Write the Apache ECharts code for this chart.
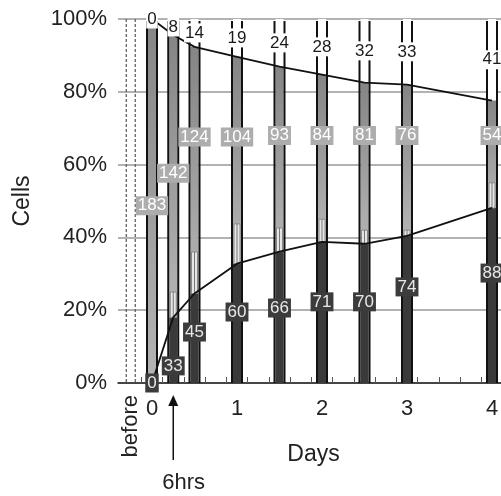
<!DOCTYPE html>
<html>
<head>
<meta charset="utf-8">
<script src="https://cdn.jsdelivr.net/npm/echarts@6/dist/echarts.min.js"></script>
<style>
  html, body { margin: 0; padding: 0; background: #fff; }
  #chart { width: 501px; height: 496px; }
</style>
</head>
<body>
<div id="chart"></div>
<script>
  const FONT = "'Liberation Sans', Arial, sans-serif";

  // time points (days) and cell counts per state
  const days = [0, 0.25, 0.5, 1, 1.5, 2, 2.5, 3, 4];
  const darkCounts = [0, 33, 45, 60, 66, 71, 70, 74, 88];
  const grayCounts = [183, 142, 124, 104, 93, 84, 81, 76, 54];
  const whiteCounts = [0, 8, 14, 19, 24, 28, 32, 33, 41];
  // upper end of the error box above the dark part (%)
  const errorTop = [0, 25, 36, 43.7, 42.6, 45, 42, 42, 55];

  const dayLabels = [0, 1, 2, 3, 4];
  const tickDays = [-0.125, 0.125, 0.375, 0.625, 0.875, 1.125, 1.375, 1.625, 1.875,
    2.125, 2.375, 2.625, 2.875, 3.125, 3.375, 3.625, 3.875, 4.125, 4.375];
  const yTicks = [0, 20, 40, 60, 80, 100];
  const beforeDay = -0.25;
  const arrowDay = 0.25;

  // where the inner labels sit (% height), as placed in the figure
  const darkLabelLevel = [0, 4.7, 14, 19.5, 20.6, 22.3, 22.3, 26.4, 30.2];
  const grayLabelLevel = [48.7, 57.6, 67.6, 67.6, 68, 68, 68, 68, 68];

  const totals = days.map((d, i) => darkCounts[i] + grayCounts[i] + whiteCounts[i]);
  const darkPct = days.map((d, i) => (darkCounts[i] / totals[i]) * 100);
  const topPct = days.map((d, i) => ((darkCounts[i] + grayCounts[i]) / totals[i]) * 100);

  const barRows = days.map((d, i) => [d, darkPct[i], topPct[i], errorTop[i]]);

  const BAR_W = 8;

  function renderBar(params, api) {
    const d = api.value(0);
    const p0 = api.coord([d, 0]);
    const p1 = api.coord([d, api.value(1)]);
    const p2 = api.coord([d, api.value(2)]);
    const pTop = api.coord([d, 100]);
    const pErr = api.coord([d, api.value(3)]);
    const x = p0[0] - BAR_W / 2;
    const children = [
      { type: "rect", shape: { x, y: pTop[1], width: BAR_W, height: p2[1] - pTop[1] },
        style: { fill: "#fff" } },
      { type: "rect", shape: { x, y: p2[1], width: BAR_W, height: p1[1] - p2[1] },
        style: { fill: new echarts.graphic.LinearGradient(0, 0, 0, 1, [
          { offset: 0, color: "#858585" }, { offset: 1, color: "#b4b4b4" }]) } },
      { type: "rect", shape: { x, y: p1[1], width: BAR_W, height: p0[1] - p1[1] },
        style: { fill: "#3a3a3a" } },
    ];
    if (api.value(3) > api.value(1)) {
      children.push(
        { type: "rect", shape: { x: x + 1, y: pErr[1], width: BAR_W - 2, height: p1[1] - pErr[1] },
          style: { fill: "#e6e6e6", stroke: "#888", lineWidth: 1 } },
        { type: "line", shape: { x1: p0[0], y1: pErr[1], x2: p0[0], y2: p1[1] },
          style: { stroke: "#777", lineWidth: 1 } }
      );
    }
    children.push(
      { type: "line", shape: { x1: x - 1, y1: pTop[1] + 2, x2: x - 1, y2: p0[1] },
        style: { stroke: "#111", lineWidth: 2 } },
      { type: "line", shape: { x1: x + BAR_W + 1, y1: pTop[1] + 2, x2: x + BAR_W + 1, y2: p0[1] },
        style: { stroke: "#111", lineWidth: 2 } }
    );
    return { type: "group", children };
  }

  function renderLabels(params, api) {
    const i = params.dataIndex;
    const d = api.value(0);
    const cx = api.coord([d, 0])[0];
    const yWhite = api.coord([d, (topPct[i] + 100) / 2])[1];
    const yGray = api.coord([d, grayLabelLevel[i]])[1];
    const yDark = api.coord([d, darkLabelLevel[i]])[1];
    const base = { fontSize: 17, fontFamily: FONT, align: "center", verticalAlign: "middle" };
    return {
      type: "group",
      children: [
        { type: "text", x: cx, y: yWhite,
          style: Object.assign({}, base, { text: String(whiteCounts[i]), fill: "#1a1a1a",
            backgroundColor: "#fff", padding: [1, 1] }) },
        { type: "text", x: cx, y: yGray,
          style: Object.assign({}, base, { text: String(grayCounts[i]), fill: "#fff",
            backgroundColor: "#adadad", padding: [2, 2, 0, 2] }) },
        { type: "text", x: cx, y: yDark,
          style: Object.assign({}, base, { text: String(darkCounts[i]), fill: "#e8e8e8",
            backgroundColor: "#3c3c3c", padding: [2, 2, 0, 2] }) },
      ],
    };
  }

  function renderBefore(params, api) {
    const d = api.value(0);
    const p0 = api.coord([d, 0]);
    const pTop = api.coord([d, 100]);
    const dashed = { stroke: "#555", lineWidth: 1.2, lineDash: [3, 2] };
    return {
      type: "group",
      children: [
        { type: "line", shape: { x1: p0[0] - 4.5, y1: pTop[1], x2: p0[0] - 4.5, y2: p0[1] }, style: dashed },
        { type: "line", shape: { x1: p0[0] + 4.5, y1: pTop[1], x2: p0[0] + 4.5, y2: p0[1] }, style: dashed },
      ],
    };
  }

  const chart = echarts.init(document.getElementById("chart"));

  const xBase = { type: "value", min: -0.4, max: 4.6, splitLine: { show: false } };

  chart.setOption({
    animation: false,
    backgroundColor: "#fff",
    grid: { left: 118, right: -42, top: 19, bottom: 113, containLabel: false, outerBoundsMode: "none" },
    xAxis: [
      Object.assign({}, xBase, {
        position: "bottom",
        axisLine: { show: true, onZero: false, lineStyle: { color: "#222", width: 1.5 } },
        axisTick: { show: true, inside: true, length: 6, customValues: tickDays,
          lineStyle: { color: "#555", width: 1 } },
        axisLabel: { customValues: dayLabels, fontSize: 22, fontFamily: FONT, color: "#222", margin: 15 },
        name: "Days",
        nameLocation: "middle",
        nameGap: 60,
        nameTextStyle: { fontSize: 23, fontFamily: FONT, color: "#222", padding: [0, 34, 0, 0] },
      }),
      Object.assign({}, xBase, {
        position: "bottom",
        axisLine: { show: false },
        axisTick: { show: false },
        axisLabel: { customValues: [beforeDay], formatter: () => "before", rotate: 90,
          fontSize: 22, fontFamily: FONT, color: "#222", margin: 12 },
      }),
    ],
    yAxis: {
      type: "value",
      min: 0,
      max: 100,
      interval: 20,
      axisLine: { show: true, lineStyle: { color: "#555", width: 1.5 } },
      axisTick: { show: false },
      axisLabel: { customValues: yTicks, formatter: "{value}%", fontSize: 22, fontFamily: FONT,
        color: "#222", margin: 11 },
      splitLine: { show: true, lineStyle: { color: "#999", width: 1.5 } },
      name: "Cells",
      nameLocation: "middle",
      nameGap: 84,
      nameTextStyle: { fontSize: 23, fontFamily: FONT, color: "#222" },
    },
    series: [
      {
        type: "custom",
        name: "before",
        renderItem: renderBefore,
        data: [[beforeDay]],
        z: 2,
      },
      {
        type: "custom",
        name: "bars",
        renderItem: renderBar,
        data: barRows,
        encode: { x: 0, y: [1, 2] },
        z: 2,
      },
      {
        type: "line",
        name: "live",
        data: days.map((d, i) => [d, topPct[i]]),
        symbol: "none",
        lineStyle: { color: "#111", width: 1.8 },
        z: 3,
      },
      {
        type: "line",
        name: "dark",
        data: days.map((d, i) => [d, darkPct[i]]),
        symbol: "none",
        lineStyle: { color: "#111", width: 1.8 },
        z: 3,
      },
      {
        type: "custom",
        name: "labels",
        renderItem: renderLabels,
        data: barRows,
        encode: { x: 0, y: [1, 2] },
        z: 5,
      },
    ],
  });

  // arrow marking the 6 hour sample
  const ax = chart.convertToPixel({ xAxisIndex: 0 }, arrowDay);
  const ay = chart.convertToPixel({ yAxisIndex: 0 }, 0);
  chart.setOption({
    graphic: [
      { type: "line", shape: { x1: ax, y1: ay + 20, x2: ax, y2: ay + 77 },
        style: { stroke: "#111", lineWidth: 1.5 } },
      { type: "polygon", shape: { points: [[ax, ay + 12], [ax - 5, ay + 23], [ax + 5, ay + 23]] },
        style: { fill: "#111" } },
      { type: "text", x: ax - 11, y: ay + 100,
        style: { text: "6hrs", fontSize: 22, fontFamily: FONT, fill: "#222",
          align: "left", verticalAlign: "middle" } },
    ],
  });
</script>
</body>
</html>
